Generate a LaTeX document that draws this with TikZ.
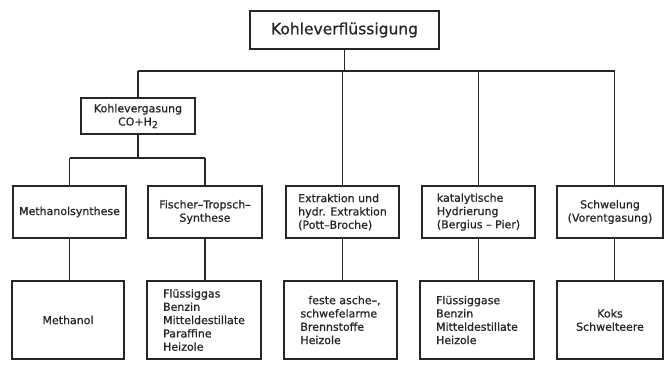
\documentclass[tikz,border=0pt]{standalone}
\usepackage{fontspec}
\setmainfont[FakeBold=0.8]{DejaVu Sans}
\begin{document}
\begin{tikzpicture}[x=1pt,y=-1pt,
  every node/.style={text=black!85},
  line/.style={draw=black!85,line width=1.4pt},
  mainbox/.style={draw=black!85,line width=1.7pt,inner sep=2pt,font=\fontsize{15.5}{19}\selectfont},
  midbox/.style={draw=black!85,line width=1.7pt,inner sep=2pt,minimum height=52pt,font=\fontsize{11}{13.3}\selectfont},
  gasbox/.style={draw=black!85,line width=1.4pt,inner sep=2pt,font=\fontsize{11}{13.3}\selectfont},
  resbox/.style={draw=black!85,line width=1.4pt,inner sep=2pt,minimum height=78pt,font=\fontsize{11}{13.3}\selectfont}]
\useasboundingbox (0,0) rectangle (664,367);
% top
\node[mainbox,minimum width=189pt,minimum height=38pt] (top) at (344.5,30) {Kohleverflüssigung};
\node[gasbox,minimum width=114pt,minimum height=36pt,align=center] (kv) at (138,116)
  {Kohlevergasung\\CO+H\raisebox{-2.5pt}{\fontsize{9.5}{9.5}\selectfont 2}};
% middle row
\node[midbox,minimum width=113pt] (m1) at (69.5,212) {Methanolsynthese};
\node[midbox,minimum width=114pt,align=center] (m2) at (205,212) {Fischer–Tropsch–\\Synthese};
\node[midbox,minimum width=113pt,align=left] (m3) at (342.5,212) {Extraktion und\\hydr. Extraktion\\(Pott–Broche)};
\node[midbox,minimum width=113pt,align=left] (m4) at (478.5,212) {katalytische\\Hydrierung\\(Bergius – Pier)};
\node[midbox,minimum width=106pt,align=center] (m5) at (610,212) {Schwelung\\(Vorentgasung)};
% bottom row
\node[resbox,minimum width=112pt] (b1) at (68,320) {Methanol};
\node[resbox,minimum width=114pt,align=left] (b2) at (204,320) {Flüssiggas\\Benzin\\Mitteldestillate\\Paraffine\\Heizole};
\node[resbox,minimum width=113pt,align=left] (b3) at (340.5,320) {\hspace*{8pt}feste asche–,\\schwefelarme\\Brennstoffe\\Heizole};
\node[resbox,minimum width=114pt,align=left] (b4) at (477,320) {Flüssiggase\\Benzin\\Mitteldestillate\\Heizole};
\node[resbox,minimum width=106pt,align=center] (b5) at (610,320) {Koks\\Schwelteere};
% junctions
\coordinate (j1) at (138,71);
\coordinate (j2) at (342.5,71);
\coordinate (j3) at (478.5,71);
\coordinate (j4) at (614.5,71);
\coordinate (k1) at (69.5,158);
\coordinate (k2) at (205,158);
% connectors
\draw[line] (top.south) -- (top.south |- j1);
\draw[line] (j1) -- (j4);
\draw[line] (j1) -- (kv.north);
\draw[line] (j2) -- (m3.north);
\draw[line] (j3) -- (m4.north);
\draw[line] (j4) -- (j4 |- m5.north);
\draw[line] (kv.south) -- (kv.south |- k1);
\draw[line] (k1) -- (k2);
\draw[line] (k1) -- (m1.north);
\draw[line] (k2) -- (m2.north);
\draw[line] (m1.south) -- (m1.south |- b1.north);
\draw[line] (m2.south) -- (m2.south |- b2.north);
\draw[line] (m3.south) -- (m3.south |- b3.north);
\draw[line] (m4.south) -- (m4.south |- b4.north);
\draw[line] (j4 |- m5.south) -- (j4 |- b5.north);
\end{tikzpicture}
\end{document}
